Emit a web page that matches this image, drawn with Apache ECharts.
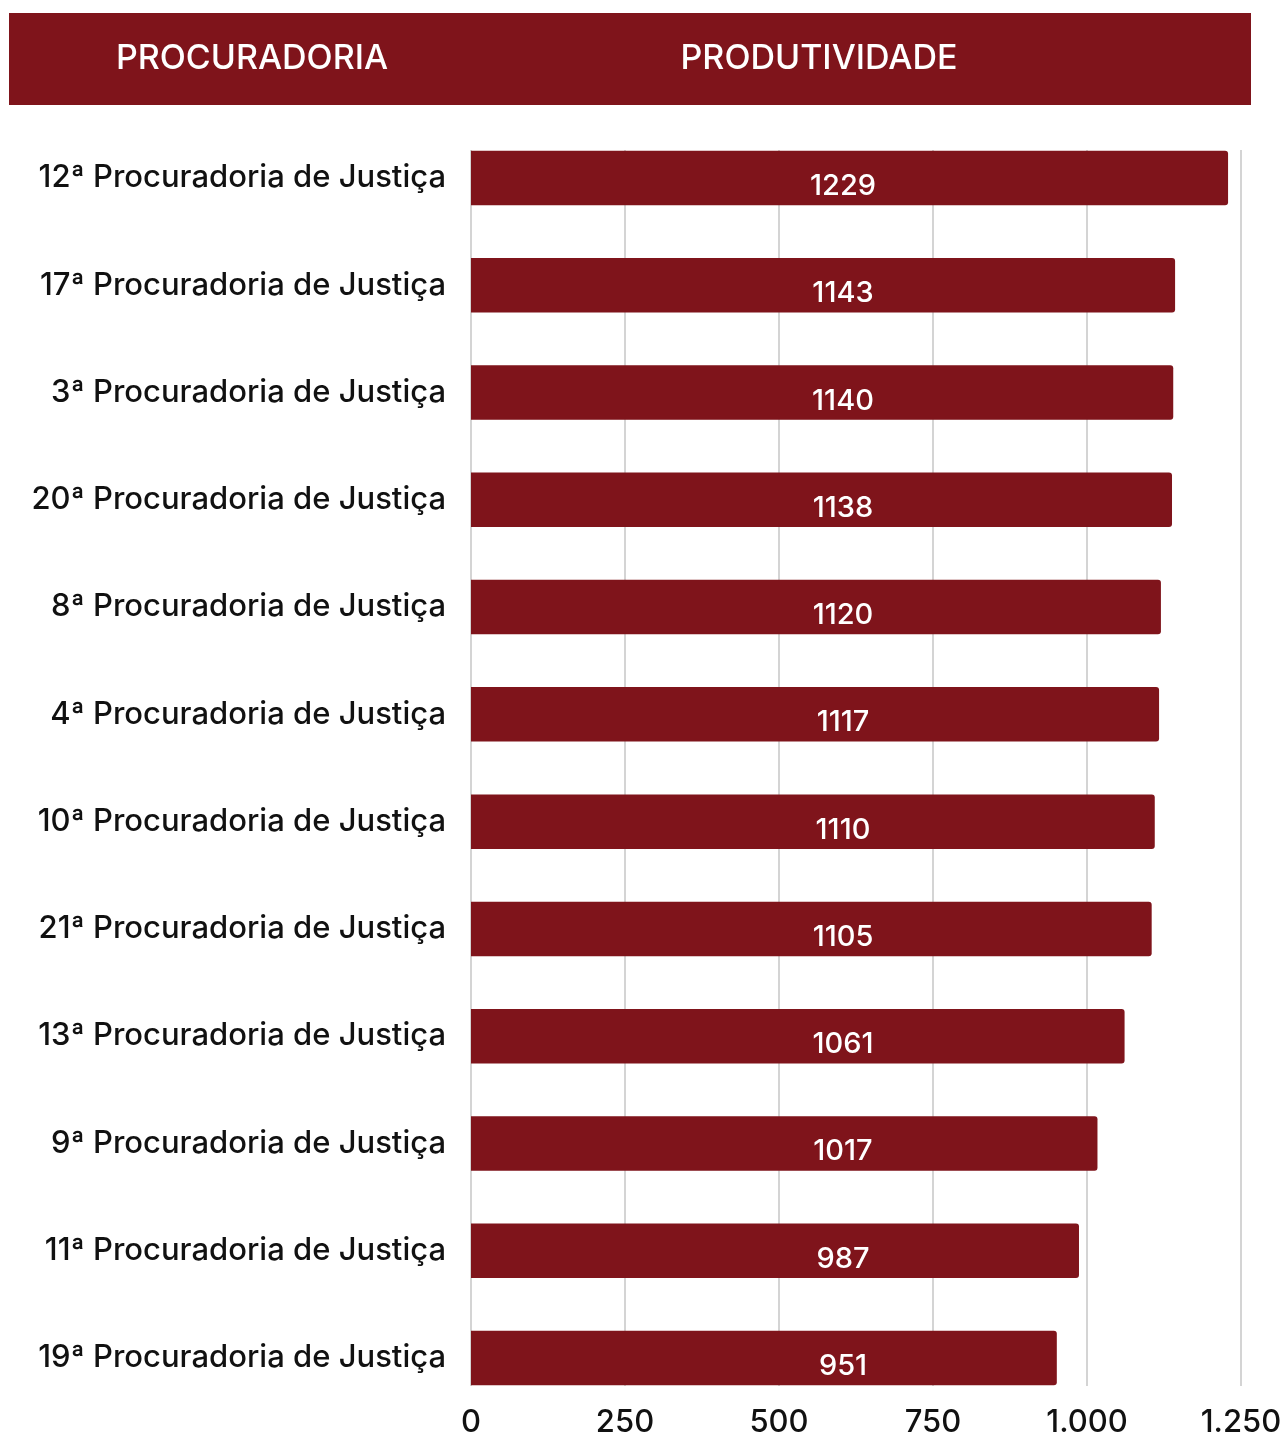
<!DOCTYPE html>
<html>
<head>
<meta charset="utf-8">
<script src="https://cdn.jsdelivr.net/npm/echarts@6/dist/echarts.min.js"></script>
<style>
html,body{margin:0;padding:0;background:#fff;}
#chart{width:1283px;height:1436px;}
</style>
</head>
<body>
<div id="chart"></div>
<script>
const categories = [
  "12ª Procuradoria de Justiça",
  "17ª Procuradoria de Justiça",
  "3ª Procuradoria de Justiça",
  "20ª Procuradoria de Justiça",
  "8ª Procuradoria de Justiça",
  "4ª Procuradoria de Justiça",
  "10ª Procuradoria de Justiça",
  "21ª Procuradoria de Justiça",
  "13ª Procuradoria de Justiça",
  "9ª Procuradoria de Justiça",
  "11ª Procuradoria de Justiça",
  "19ª Procuradoria de Justiça"
];
const values = [1229, 1143, 1140, 1138, 1120, 1117, 1110, 1105, 1061, 1017, 987, 951];
const headerLabels = ["PROCURADORIA", "PRODUTIVIDADE"];
const axisMin = 0, axisMax = 1250, axisInterval = 250;

const RED = '#7f141b';
const FONT = 'Inter, "DejaVu Sans", sans-serif';
const chart = echarts.init(document.getElementById('chart'), null, {renderer: 'canvas'});

function fmt(v){ return String(v).replace(/\B(?=(\d{3})+(?!\d))/g, '.'); }

chart.setOption({
  backgroundColor: '#ffffff',
  animation: false,
  graphic: [
    {type: 'rect', shape: {x: 9, y: 13, width: 1242, height: 92}, style: {fill: RED}, silent: true},
    {type: 'text', x: 252, y: 59, style: {text: headerLabels[0], fill: '#fff', font: '500 34px ' + FONT, align: 'center', verticalAlign: 'middle'}},
    {type: 'text', x: 819, y: 59, style: {text: headerLabels[1], fill: '#fff', font: '500 34px ' + FONT, align: 'center', verticalAlign: 'middle'}}
  ],
  grid: [
    {left: 471, width: 770, top: 150, height: 1236, containLabel: false, outerBoundsMode: 'none'},
    {left: 471, width: 770, top: 124.4, height: 1287.2, containLabel: false, outerBoundsMode: 'none'}
  ],
  xAxis: [
    {
      type: 'value', gridIndex: 0, min: axisMin, max: axisMax, interval: axisInterval,
      axisLine: {show: false}, axisTick: {show: false},
      splitLine: {show: true, lineStyle: {color: '#c6c6c6', width: 1.5}},
      axisLabel: {formatter: fmt, color: '#111', fontFamily: FONT, fontSize: 31, fontWeight: 500, margin: 21}
    },
    {
      type: 'value', gridIndex: 1, min: axisMin, max: axisMax, interval: axisInterval, show: false
    }
  ],
  yAxis: [
    {type: 'category', gridIndex: 0, data: categories, show: false, inverse: true},
    {
      type: 'category', gridIndex: 1, data: categories, inverse: true,
      axisLine: {show: false}, axisTick: {show: false}, splitLine: {show: false},
      axisLabel: {color: '#111', fontFamily: FONT, fontSize: 31, fontWeight: 500, margin: 25, padding: [8, 0, 0, 0]}
    }
  ],
  series: [{
    type: 'bar', xAxisIndex: 1, yAxisIndex: 1, data: values, barWidth: 54.5,
    itemStyle: {color: RED, borderRadius: [0, 3, 3, 0]},
    label: {
      show: true, position: [372, 35.5], align: 'center', verticalAlign: 'middle',
      color: '#fff', fontFamily: FONT, fontSize: 29, fontWeight: 500
    }
  }]
});
</script>
</body>
</html>
